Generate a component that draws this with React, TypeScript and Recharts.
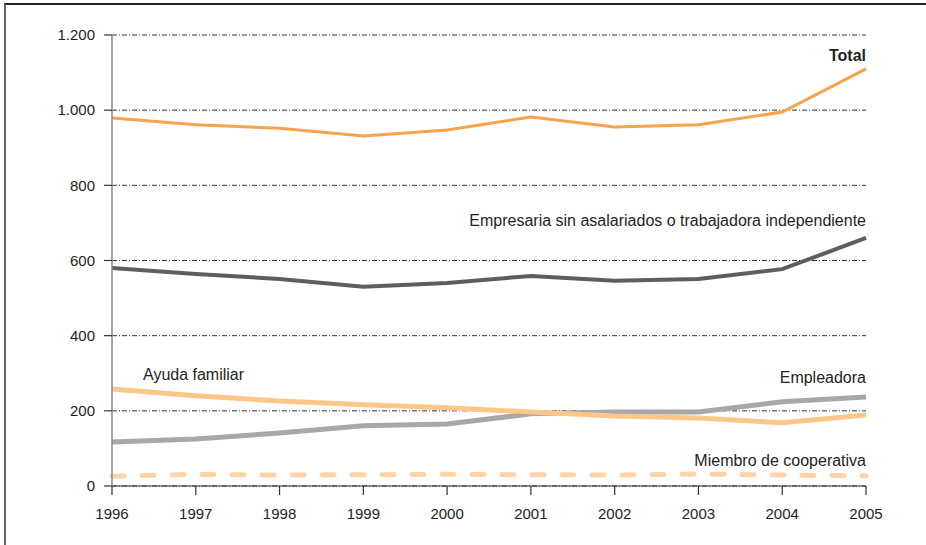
import React from "react";
import {
  LineChart,
  Line,
  XAxis,
  YAxis,
  CartesianGrid,
  Customized,
} from "recharts";

const years = [1996, 1997, 1998, 1999, 2000, 2001, 2002, 2003, 2004, 2005];
const total = [979, 961, 952, 931, 947, 982, 955, 961, 995, 1110];
const empresaria = [580, 564, 551, 530, 540, 559, 546, 551, 577, 660];
const ayudaFamiliar = [258, 240, 226, 216, 208, 197, 186, 181, 168, 189];
const empleadora = [117, 125, 141, 160, 165, 192, 197, 197, 224, 237];
const cooperativa = [26, 31, 29, 30, 31, 30, 29, 32, 29, 27];
const yTicks = [0, 200, 400, 600, 800, 1000, 1200];

const data = years.map((year, i) => ({
  year,
  total: total[i],
  empresaria: empresaria[i],
  ayuda: ayudaFamiliar[i],
  empleadora: empleadora[i],
  cooperativa: cooperativa[i],
}));

const FONT = "'Liberation Sans', Arial, sans-serif";
const TEXT = "#231f20";

// thousands separator with a dot: 1.200
const formatY = (v: number) =>
  v >= 1000 ? `${Math.floor(v / 1000)}.${String(v % 1000).padStart(3, "0")}` : `${v}`;

const SeriesLabels = () => (
  <g fontFamily={FONT} fontSize={16} fill={TEXT}>
    <text x={866} y={61} textAnchor="end" fontWeight="bold" fontSize={16}>
      Total
    </text>
    <text x={866} y={226} textAnchor="end">
      Empresaria sin asalariados o trabajadora independiente
    </text>
    <text x={866} y={383} textAnchor="end">
      Empleadora
    </text>
    <text x={143} y={380}>
      Ayuda familiar
    </text>
    <text x={866} y={466} textAnchor="end">
      Miembro de cooperativa
    </text>
  </g>
);

export default function App() {
  return (
    <div
      style={{
        position: "absolute",
        left: 0,
        top: 0,
        width: 926,
        height: 545,
        background: "#fff",
      }}
    >
      <div
        style={{
          position: "absolute",
          left: 4,
          top: 3,
          right: 0,
          bottom: 0,
          borderTop: "2px solid #222",
          borderLeft: "2px solid #666",
        }}
      />
      <LineChart
        width={926}
        height={545}
        data={data}
        margin={{ top: 35, right: 60, left: 0, bottom: 0 }}
        style={{ position: "absolute", left: 0, top: 0 }}
      >
        <CartesianGrid
          vertical={false}
          stroke="#333"
          strokeWidth={1}
          strokeDasharray="5 2 1 2"
        />
        <XAxis
          dataKey="year"
          type="number"
          domain={[1996, 2005]}
          ticks={years}
          height={59}
          tickSize={9}
          tickMargin={13}
          axisLine={{ stroke: "#333", strokeWidth: 1.2 }}
          tickLine={{ stroke: "#333", strokeWidth: 1.2 }}
          tick={{ fill: TEXT, fontSize: 15, fontFamily: FONT }}
        />
        <YAxis
          domain={[0, 1200]}
          ticks={yTicks}
          width={112}
          tickSize={8}
          tickMargin={9}
          tickFormatter={formatY}
          axisLine={{ stroke: "#888", strokeWidth: 1.5 }}
          tickLine={{ stroke: "#333", strokeWidth: 1.2 }}
          tick={{ fill: TEXT, fontSize: 15, fontFamily: FONT }}
        />
        <Line
          dataKey="total"
          stroke="#F7A24C"
          strokeWidth={3}
          dot={false}
          isAnimationActive={false}
        />
        <Line
          dataKey="empresaria"
          stroke="#5E5E60"
          strokeWidth={4}
          dot={false}
          isAnimationActive={false}
        />
        <Line
          dataKey="empleadora"
          stroke="#A8A8AC"
          strokeWidth={5}
          dot={false}
          isAnimationActive={false}
        />
        <Line
          dataKey="ayuda"
          stroke="#FFC689"
          strokeWidth={5}
          dot={false}
          isAnimationActive={false}
        />
        <Line
          dataKey="cooperativa"
          stroke="#FDD4A8"
          strokeWidth={5}
          strokeDasharray="12 18"
          strokeLinecap="round"
          dot={false}
          isAnimationActive={false}
        />
        <Customized component={SeriesLabels} />
      </LineChart>
    </div>
  );
}
